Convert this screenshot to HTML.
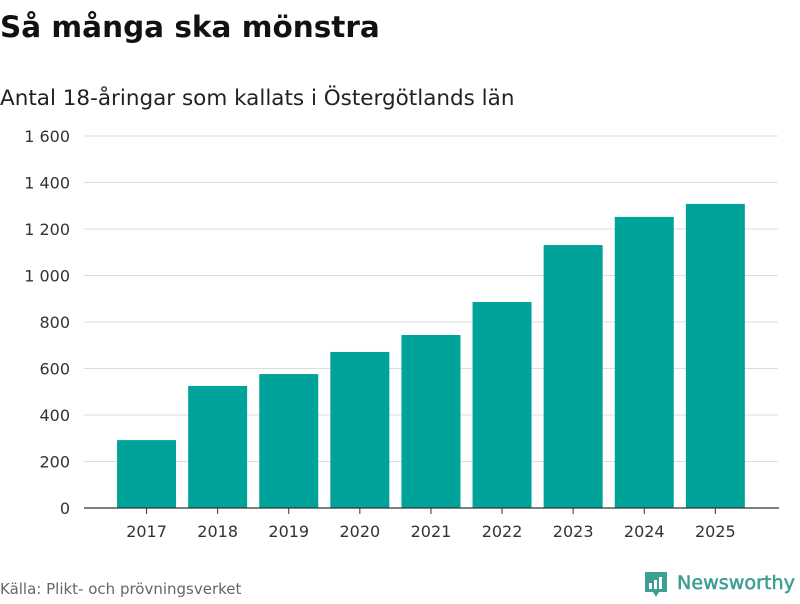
<!DOCTYPE html>
<html><head><meta charset="utf-8"><style>
body{margin:0;width:800px;height:600px;background:#fff;font-family:"DejaVu Sans","Liberation Sans",sans-serif;overflow:hidden}
</style></head><body>
<svg id="c" width="800" height="600" xmlns="http://www.w3.org/2000/svg">
<text x="0" y="37" font-size="29.5" font-weight="bold" fill="#111">Så många ska mönstra</text>
<text x="0" y="105" font-size="21.5" fill="#222">Antal 18-åringar som kallats i Östergötlands län</text>
<text x="0" y="594" font-size="15" fill="#666">Källa: Plikt- och prövningsverket</text>
<g>
<path d="M645 572 h22 v20 h-8 l-3 5 l-3 -5 h-8 z" fill="#3d9e92"/>
<rect x="649" y="583" width="3" height="6" fill="#fff"/><rect x="654" y="580" width="3" height="9" fill="#fff"/><rect x="659" y="577" width="3" height="12" fill="#fff"/>
<text x="677" y="589" font-size="19" fill="#3d9e92" stroke="#3d9e92" stroke-width="0.5" textLength="118" lengthAdjust="spacingAndGlyphs">Newsworthy</text>
</g>
<g id="grid"></g><g id="bars"></g><g id="xl"></g>
</svg>
<script>
const categories=["2017","2018","2019","2020","2021","2022","2023","2024","2025"];
const values=[292,525,576,671,744,886,1131,1252,1308];
const yTicks=[0,200,400,600,800,1000,1200,1400,1600];
const yTickLabels=["0","200","400","600","800","1 000","1 200","1 400","1 600"];
const NS="http://www.w3.org/2000/svg";
const y0=508,yTop=136,yMax=1600;
function y(v){return y0-(y0-yTop)*v/yMax;}
const band=71.1,start=111,bw=59;
function x(i){return start+i*band+band/2;}
function mk(t,a,p){const e=document.createElementNS(NS,t);for(const k in a)e.setAttribute(k,a[k]);p.appendChild(e);return e;}
const g=document.getElementById('grid'),b=document.getElementById('bars'),xl=document.getElementById('xl');
yTicks.forEach((v,i)=>{
 if(v>0){const l=mk('line',{x1:84,x2:778,y1:y(v),y2:y(v),stroke:'#ddd','stroke-width':1},g);
 
 }
 const t=mk('text',{x:70,y:y(v)+6,'text-anchor':'end','font-size':16,fill:'#333'},g);
 t.textContent=yTickLabels[i];
 
 
});
values.forEach((v,i)=>{
 const r=mk('rect',{x:x(i)-bw/2,y:y(v),width:bw,height:y0-y(v),fill:'#00a39a'},b);
 
 
 mk('line',{x1:x(i),x2:x(i),y1:y0,y2:y0+6,stroke:'#333'},xl);
 const t=mk('text',{x:x(i),y:537,'text-anchor':'middle','font-size':16,fill:'#333'},xl);
 t.textContent=categories[i];
 
 
});
const ax=mk('line',{x1:84,x2:779,y1:y0,y2:y0,stroke:'#333','stroke-width':1.2},xl);


</script>
</body></html>
